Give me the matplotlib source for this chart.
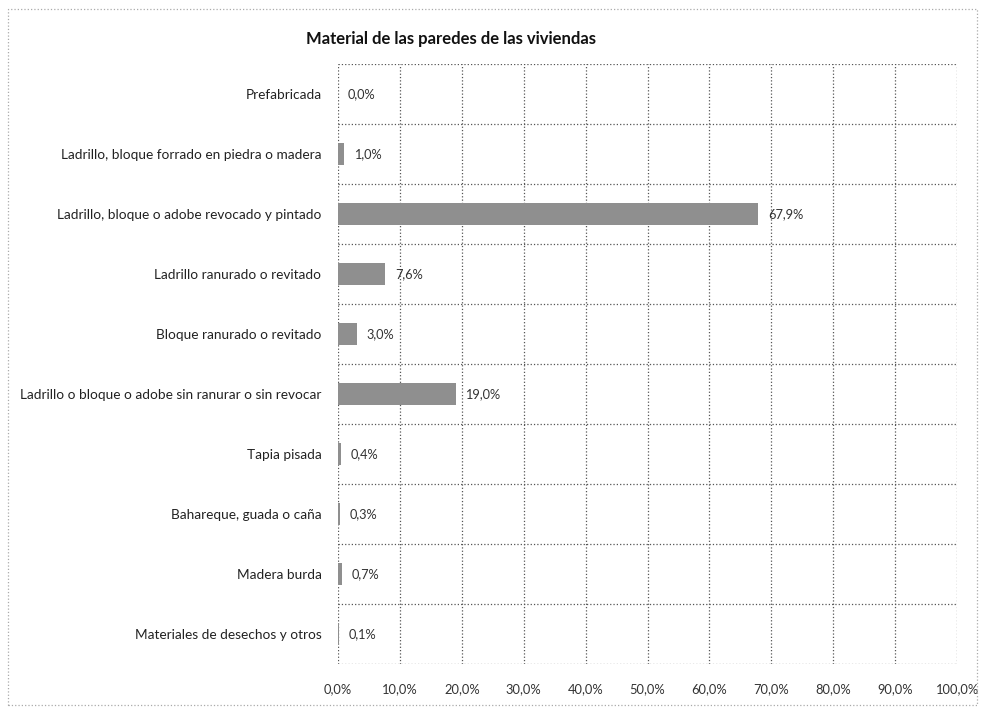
import matplotlib.pyplot as plt
import matplotlib.patches as patches
import numpy as np

categorias = [
    "Prefabricada",
    "Ladrillo, bloque forrado en piedra o madera",
    "Ladrillo, bloque o adobe revocado y pintado",
    "Ladrillo ranurado o revitado",
    "Bloque ranurado o revitado",
    "Ladrillo o bloque o adobe sin ranurar o sin revocar",
    "Tapia pisada",
    "Bahareque, guada o caña",
    "Madera burda",
    "Materiales de desechos y otros",
]
porcentajes = [0.0, 1.0, 67.9, 7.6, 3.0, 19.0, 0.4, 0.3, 0.7, 0.1]
ticks_x = [0, 10, 20, 30, 40, 50, 60, 70, 80, 90, 100]

plt.rcParams['font.family'] = ['Lato', 'DejaVu Sans']

fig = plt.figure(figsize=(9.83, 7.12), dpi=100)
ax = fig.add_axes([0.3439, 0.0674, 0.6297, 0.8427])

y = np.arange(len(categorias))
ax.barh(y, porcentajes, height=0.38, color="#8f8f8f")

for yi, v in zip(y, porcentajes):
    ax.annotate(f"{v:.1f}%".replace(".", ","), (v, yi), xytext=(7, 0),
                textcoords="offset points", va="center", ha="left",
                fontsize=9.2, color="#333333")

ax.set_xlim(0, 100)
ax.set_ylim(len(categorias) - 0.5, -0.5)
ax.set_xticks(ticks_x)
ax.set_xticklabels([f"{t:.1f}%".replace(".", ",") for t in ticks_x], fontsize=9.3, color="#333333")
ax.set_yticks(y)
ax.set_yticklabels(categorias, fontsize=9.8, color="#222222")
ax.set_yticks(np.arange(len(categorias) + 1) - 0.5, minor=True)
ax.tick_params(axis="both", which="both", length=0)
ax.tick_params(axis="y", pad=12)
ax.tick_params(axis="x", pad=14)

ax.grid(axis="x", which="major", linestyle=":", color="#555555", linewidth=0.9)
ax.grid(axis="y", which="minor", linestyle=":", color="#555555", linewidth=0.9)
ax.set_axisbelow(True)
for s in ax.spines.values():
    s.set_visible(False)

fig.text(0.459, 0.945, "Material de las paredes de las viviendas",
         ha="center", va="center", fontsize=12, fontweight="bold", color="#111111")

marco = patches.Rectangle((0.008, 0.01), 0.986, 0.978, transform=fig.transFigure,
                          fill=False, linestyle=":", edgecolor="#aaaaaa", linewidth=0.9)
fig.patches.append(marco)

fig.savefig("out.png", dpi=100)
